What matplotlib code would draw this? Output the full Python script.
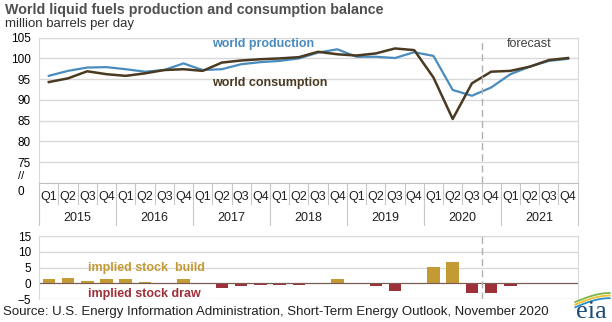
import numpy as np
import matplotlib.pyplot as plt
import matplotlib.transforms as mtrans

plt.rcParams['font.family'] = ['Liberation Sans', 'DejaVu Sans']

# Quarterly data, 2015Q1 - 2021Q4 (million barrels per day)
years = ['2015', '2016', '2017', '2018', '2019', '2020', '2021']
quarters = ['Q1', 'Q2', 'Q3', 'Q4']
production = [95.8, 97.0, 97.8, 97.9, 97.4, 96.8, 97.2, 98.8,
              97.2, 97.4, 98.6, 99.1, 99.4, 100.0, 101.4, 102.2,
              100.4, 100.4, 100.1, 101.5, 100.6, 92.4, 91.0, 93.0,
              96.2, 98.0, 99.4, 99.9]
consumption = [94.3, 95.2, 96.9, 96.2, 95.8, 96.4, 97.2, 97.4,
               97.0, 99.0, 99.5, 99.8, 100.0, 100.3, 101.6, 101.0,
               100.7, 101.2, 102.4, 102.0, 95.4, 85.4, 94.0, 96.8,
               97.0, 98.0, 99.6, 100.1]
stock_change = [1.3, 1.6, 0.8, 1.5, 1.3, 0.3, 0.05, 1.3,
                0.1, -1.5, -0.9, -0.6, -0.6, -0.4, -0.1, 1.3,
                -0.3, -0.8, -2.4, -0.2, 5.1, 6.9, -3.1, -3.2,
                -0.9, -0.2, -0.2, -0.2]

blue = '#4a8bbd'
brown = '#4b3a22'
gold = '#c49a35'
red = '#9e3039'
grid_c = '#d9d9d9'
text_c = '#404040'

x = np.arange(len(production))
fc_split = 22.5  # forecast starts at 2020 Q4

fig = plt.figure(figsize=(6.12, 3.22), dpi=100)
ax = fig.add_axes([0.064, 0.432, 0.880, 0.451])
ax2 = fig.add_axes([0.064, 0.071, 0.880, 0.196])

# top chart
ax.plot(x, production, color=blue, lw=1.6)
ax.plot(x, consumption, color=brown, lw=1.8)
ax.set_xlim(-0.5, len(x) - 0.5)
ax.set_ylim(70, 105)
ax.set_yticks([75, 80, 85, 90, 95, 100, 105])
ax.yaxis.grid(True, color=grid_c, lw=1)
ax.set_axisbelow(True)
ax.tick_params(axis='y', length=0, labelsize=8.5, labelcolor='black', pad=6)
ax.set_xticks([])
for s in ax.spines.values():
    s.set_color(grid_c)
ax.spines['bottom'].set_color('#bfbfbf')
ax.axvline(fc_split, color='#b0b0b0', lw=1, ls=(0, (5, 3)))

# broken axis marker
ax.text(-0.028, 0.05, '//', transform=ax.transAxes, ha='right', va='center',
        fontsize=8)
ax.text(-0.028, -0.06, '0', transform=ax.transAxes, ha='right', va='center',
        fontsize=8.5)

ax.text(8.5, 103.5, 'world production', color=blue, fontsize=9,
        fontweight='bold', va='center')
ax.text(8.5, 94.0, 'world consumption', color=brown, fontsize=9,
        fontweight='bold', va='center')
ax.text(25.0, 103.5, 'forecast', color=text_c, fontsize=9, ha='center',
        va='center')

# quarter / year axis labels
tr = mtrans.blended_transform_factory(ax.transData, ax.transAxes)
for i in x:
    ax.text(i, -0.10, quarters[i % 4], transform=tr, ha='center', va='center',
            fontsize=9, color='#202020')
for i in range(len(x) + 1):
    b = i - 0.5
    low = -0.29 if i % 4 == 0 else -0.145
    ax.plot([b, b], [0, low], transform=tr, color='#c8c8c8', lw=0.8,
            clip_on=False)
for k, yr in enumerate(years):
    ax.text(4 * k + 1.5, -0.24, yr, transform=tr, ha='center', va='center',
            fontsize=9, color='#202020')

# bottom chart
cols = [gold if v >= 0 else red for v in stock_change]
ax2.bar(x, stock_change, width=0.65, color=cols)
ax2.axhline(0, color='#7a5a50', lw=0.8)
ax2.set_xlim(-0.5, len(x) - 0.5)
ax2.set_ylim(-5, 15)
ax2.set_yticks([-5, 0, 5, 10, 15])
ax2.set_xticks([])
ax2.yaxis.grid(True, color=grid_c, lw=1)
ax2.set_axisbelow(True)
ax2.tick_params(axis='y', length=0, labelsize=8.5, pad=6)
for s in ax2.spines.values():
    s.set_color(grid_c)
ax2.spines['bottom'].set_visible(False)
ax2.axvline(fc_split, color='#b0b0b0', lw=1, ls=(0, (5, 3)))
ax2.text(2.05, 5.0, 'implied stock  build', color=gold, fontsize=9,
         fontweight='bold', va='center')
ax2.text(2.05, -3.3, 'implied stock draw', color=red, fontsize=9,
         fontweight='bold', va='center')

# titles, source, logo
fig.text(0.008, 0.968, 'World liquid fuels production and consumption balance',
         fontsize=10.3, fontweight='bold', color='#505050', va='center')
fig.text(0.008, 0.925, 'million barrels per day', fontsize=9.5,
         color='#303030', va='center')
fig.text(0.005, 0.03, 'Source: U.S. Energy Information Administration, '
         'Short-Term Energy Outlook, November 2020', fontsize=9.5,
         color='#202020', va='center')

logo = fig.add_axes([0.925, 0.0, 0.075, 0.1])
logo.set_xlim(0, 1)
logo.set_ylim(0, 1)
logo.axis('off')
t = np.linspace(0.0, 1.0, 30)
for off, c in [(0.0, '#7ab648'), (0.08, '#f2c12e'), (0.16, '#2a8fc9')]:
    logo.plot(0.2 + 0.75 * t, 0.62 + 0.28 * np.sin(t * np.pi / 2) - off,
              color=c, lw=1.3)
logo.text(0.55, 0.32, 'eia', fontsize=19, family='Liberation Serif',
          color='#1f4e79', ha='center', va='center')

fig.savefig('out.png', dpi=100)
